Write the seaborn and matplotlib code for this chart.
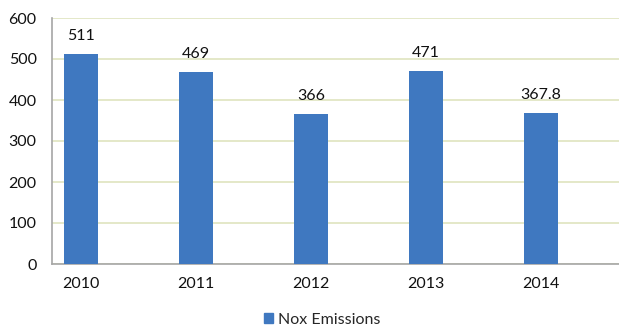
import matplotlib
matplotlib.use("Agg")
import matplotlib.pyplot as plt
import seaborn as sns
import pandas as pd
from matplotlib.patches import Patch

years = ["2010", "2011", "2012", "2013", "2014"]
nox_values = [511, 469, 366, 471, 367.8]
value_labels = ["511", "469", "366", "471", "367.8"]
y_ticks = [0, 100, 200, 300, 400, 500, 600]

df = pd.DataFrame({"Year": years, "Nox Emissions": nox_values})

sns.set_theme(style="white")
plt.rcParams["font.family"] = ["Lato", "DejaVu Sans"]

fs = 11.5
bar_color = "#3f78c0"
fig = plt.figure(figsize=(6.19, 3.28), dpi=100)
ax = fig.add_axes([52 / 619, 1 - 264 / 328, (619 - 52) / 619, (264 - 18) / 328])

sns.barplot(data=df, x="Year", y="Nox Emissions", color=bar_color,
            width=0.296, saturation=1, linewidth=0, ax=ax, zorder=3)

ax.set_ylim(0, 600)
ax.set_xlim(-0.252, 4.678)
ax.set_yticks(y_ticks)
ax.set_yticklabels([str(t) for t in y_ticks], fontsize=fs)
ax.tick_params(axis="x", labelsize=fs, pad=9, length=0, colors="#111111")
ax.tick_params(axis="y", pad=11, length=0, colors="#111111")
ax.set_xlabel("")
ax.set_ylabel("")
ax.yaxis.grid(True, color="#dfe4bf", linewidth=1.2, zorder=0)
ax.set_axisbelow(True)

for s in ["top", "right"]:
    ax.spines[s].set_visible(False)
for s in ["left", "bottom"]:
    ax.spines[s].set_color("#a6a6a6")
    ax.spines[s].set_linewidth(1.2)

for patch, lab in zip(ax.patches, value_labels):
    ax.annotate(lab, (patch.get_x() + patch.get_width() / 2, patch.get_height()),
                xytext=(0, 8), textcoords="offset points",
                ha="center", va="bottom", fontsize=fs, color="#111111")

fig.legend(handles=[Patch(color=bar_color, label="Nox Emissions")],
           loc="center", bbox_to_anchor=(322 / 619, 1 - 320 / 328),
           frameon=False, fontsize=fs, handlelength=0.6, handleheight=0.6,
           handletextpad=0.3)

fig.savefig("out.png", dpi=100)
